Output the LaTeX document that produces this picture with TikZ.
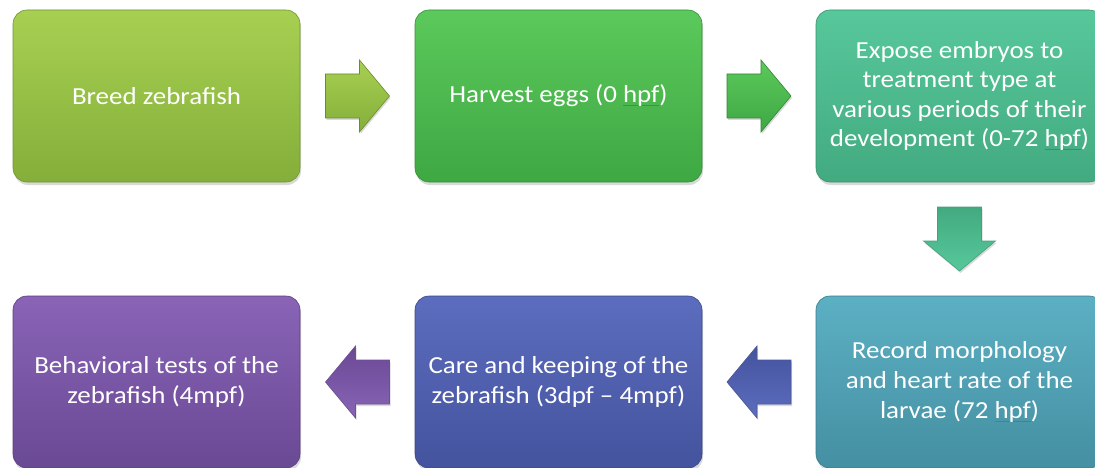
\documentclass[tikz,border=0pt]{standalone}
\usepackage{fontspec}
\setmainfont{Carlito}[FakeStretch=1.1]
\usetikzlibrary{shadows,calc}

% Colours
\definecolor{limetop}{HTML}{A7D052}
\definecolor{limebot}{HTML}{85AE3A}
\definecolor{greentop}{HTML}{5BC95B}
\definecolor{greenbot}{HTML}{3EA843}
\definecolor{seatop}{HTML}{57C89B}
\definecolor{seabot}{HTML}{43AA80}
\definecolor{tealtop}{HTML}{5CB0C3}
\definecolor{tealbot}{HTML}{458FA2}
\definecolor{bluetop}{HTML}{5C6DBF}
\definecolor{bluebot}{HTML}{44539D}
\definecolor{purptop}{HTML}{8964B7}
\definecolor{purpbot}{HTML}{6A4994}
\definecolor{spellred}{HTML}{D04848}

% spell-checker underline
\newsavebox\spellbox
\newcommand\spell[1]{\sbox\spellbox{#1}\rlap{\textcolor{spellred}{\rule[-3pt]{\wd\spellbox}{0.6pt}}}\usebox\spellbox}

\tikzset{
  stagebox/.style 2 args={rounded corners=14pt, minimum width=287pt, minimum height=172pt,
    inner sep=0pt, align=center, top color=#1, bottom color=#2, draw=#2!85!black,
    line width=0.6pt, text=white, font=\fontsize{24.5}{29.6}\selectfont,
    drop shadow={shadow xshift=1pt, shadow yshift=-3pt, opacity=0.3}},
  pics/blockarrow/.style 2 args={code={
    \path[top color=#1, bottom color=#2, draw=#2!80!black, line width=0.6pt,
      drop shadow={shadow xshift=1pt, shadow yshift=-2pt, opacity=0.3}]
      (-32,-22) -- (2,-22) -- (2,-36) -- (32,0) -- (2,36) -- (2,22) -- (-32,22) -- cycle;
  }}
}

\begin{document}
\begin{tikzpicture}[x=1pt, y=-1pt]
    \useasboundingbox (0,0) rectangle (1095,468);

    % Top row
    \node[stagebox={limetop}{limebot}] (breed) at (156.5,96) {Breed zebrafish};
    \node[stagebox={greentop}{greenbot}] (harvest) at (558.5,96) {Harvest eggs (0 \spell{hpf})};
    \node[stagebox={seatop}{seabot}] (expose) at (959.5,96)
        {Expose embryos to\\treatment type at\\various periods of their\\development (0-72 \spell{hpf})};

    % Bottom row
    \node[stagebox={tealtop}{tealbot}] (record) at (959.5,382)
        {Record morphology\\and heart rate of the\\larvae (72 \spell{hpf})};
    \node[stagebox={bluetop}{bluebot}] (care) at (558.5,382)
        {Care and keeping of the\\zebrafish (3dpf -- 4mpf)};
    \node[stagebox={purptop}{purpbot}] (behave) at (156.5,382)
        {Behavioral tests of the\\zebrafish (4mpf)};

    % Arrows between stages
    \coordinate (breed-harvest) at ($(breed.east)!0.5!(harvest.west)$);
    \coordinate (harvest-expose) at ($(harvest.east)!0.5!(expose.west)$);
    \coordinate (expose-record) at ($(expose.south)!0.5!(record.north)$);
    \coordinate (record-care) at ($(record.west)!0.5!(care.east)$);
    \coordinate (care-behave) at ($(care.west)!0.5!(behave.east)$);

    \pic at (breed-harvest) {blockarrow={limetop}{limebot}};
    \pic at (harvest-expose) {blockarrow={greentop}{greenbot}};
    \pic[rotate=-90] at (expose-record) {blockarrow={seabot}{seatop}};
    \pic[rotate=180] at (record-care) {blockarrow={bluebot}{bluetop}};
    \pic[rotate=180] at (care-behave) {blockarrow={purpbot}{purptop}};
\end{tikzpicture}
\end{document}
